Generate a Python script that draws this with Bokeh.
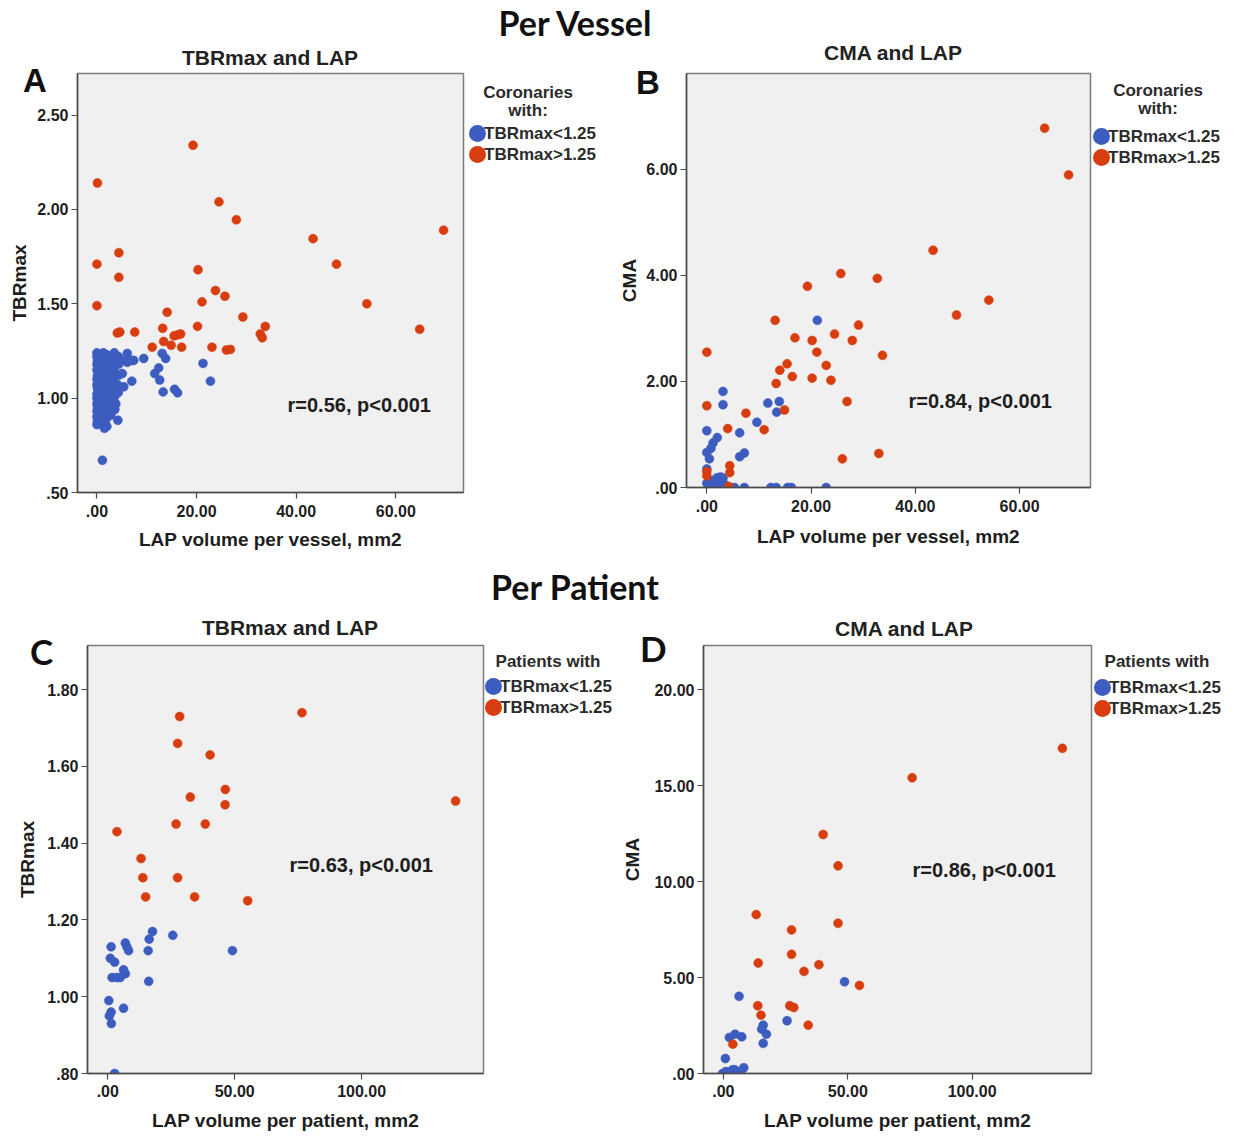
import html
from bokeh.plotting import figure
from bokeh.models import Range1d, FixedTicker, Label, Div, Spacer
from bokeh.layouts import column, row
from bokeh.embed import file_html
from bokeh.resources import INLINE

# ---------------- data ----------------
section_titles = ["Per Vessel", "Per Patient"]
panel_letters = ["A", "B", "C", "D"]
panel_titles = ["TBRmax and LAP", "CMA and LAP", "TBRmax and LAP", "CMA and LAP"]
x_labels = ["LAP volume per vessel, mm2", "LAP volume per vessel, mm2",
            "LAP volume per patient, mm2", "LAP volume per patient, mm2"]
y_labels = ["TBRmax", "CMA", "TBRmax", "CMA"]
stats_text = ["r=0.56, p<0.001", "r=0.84, p<0.001", "r=0.63, p<0.001", "r=0.86, p<0.001"]
legend_titles = [["Coronaries", "with:"], ["Coronaries", "with:"], ["Patients with"], ["Patients with"]]
series_names = ["TBRmax<1.25", "TBRmax>1.25"]

vessel_x_ticks = [0, 20, 40, 60]
vessel_x_tick_labels = [".00", "20.00", "40.00", "60.00"]
patient_x_ticks = [0, 50, 100]
patient_x_tick_labels = [".00", "50.00", "100.00"]
a_y_ticks = [0.5, 1.0, 1.5, 2.0, 2.5]
a_y_tick_labels = [".50", "1.00", "1.50", "2.00", "2.50"]
b_y_ticks = [0, 2, 4, 6]
b_y_tick_labels = [".00", "2.00", "4.00", "6.00"]
c_y_ticks = [0.8, 1.0, 1.2, 1.4, 1.6, 1.8]
c_y_tick_labels = [".80", "1.00", "1.20", "1.40", "1.60", "1.80"]
d_y_ticks = [0, 5, 10, 15, 20]
d_y_tick_labels = [".00", "5.00", "10.00", "15.00", "20.00"]

# Panel A: TBRmax vs LAP per vessel
a_red_x = [19.3, 0.1, 24.5, 28.0, 69.6, 43.4, 0.0, 48.1, 4.4, 4.4, 20.3, 0.0, 23.8, 25.7,
           21.1, 54.2, 14.1, 29.3, 4.1, 4.6, 7.6, 13.2, 20.2, 33.8, 32.8, 33.2, 64.8, 11.1,
           13.4, 14.9, 15.5, 16.2, 16.8, 17.0, 23.1, 26.0, 26.8]
a_red_y = [2.34, 2.14, 2.04, 1.945, 1.89, 1.845, 1.71, 1.71, 1.77, 1.64, 1.68, 1.49, 1.57, 1.54,
           1.51, 1.50, 1.455, 1.43, 1.345, 1.35, 1.35, 1.37, 1.38, 1.38, 1.34, 1.32, 1.365, 1.27,
           1.30, 1.28, 1.33, 1.335, 1.34, 1.27, 1.27, 1.255, 1.258]
a_blue_x = [6.1, 7.1, 6.1, 9.4, 13.1, 13.8, 12.4, 11.6, 12.6, 7.0, 13.3, 15.6, 16.2, 21.3, 22.8,
            4.2, 1.1, 5.4, 7.4,
            0.0, 0.0, 0.1, 0.0, 0.0, 0.1, 0.0, 0.0, 0.1, 0.0, 0.0, 0.0, 0.1, 0.0, 0.0, 0.1, 0.0,
            0.6, 0.7, 0.6, 0.5, 0.6, 0.7, 0.6, 0.6, 0.5, 0.7, 0.6, 0.6,
            1.3, 1.2, 1.3, 1.4, 1.3, 1.2, 1.3, 1.4, 1.3, 1.2, 1.3, 1.4, 1.5,
            2.0, 2.1, 2.0, 1.9, 2.0, 2.1, 2.0, 2.0, 1.9, 2.0,
            2.8, 2.9, 2.8, 2.7, 2.8, 2.9, 2.8, 2.8,
            3.5, 3.6, 3.5, 3.4, 3.5, 3.6, 3.6,
            4.3, 4.4, 4.3, 4.2, 4.3, 3.8,
            5.0, 5.1]
a_blue_y = [1.237, 1.20, 1.19, 1.21, 1.237, 1.21, 1.16, 1.13, 1.096, 1.09, 1.033, 1.047, 1.028, 1.184, 1.09,
            0.883, 0.671, 1.06, 1.20,
            1.24, 1.22, 1.20, 1.18, 1.15, 1.12, 1.10, 1.07, 1.05, 1.02, 1.00, 0.97, 0.95, 0.93, 0.90, 0.88, 0.86,
            1.23, 1.19, 1.16, 1.13, 1.09, 1.06, 1.03, 0.99, 0.96, 0.92, 0.89, 0.87,
            1.24, 1.21, 1.17, 1.14, 1.11, 1.08, 1.04, 1.01, 0.97, 0.94, 0.91, 0.88, 0.84,
            1.23, 1.19, 1.15, 1.12, 1.06, 1.02, 0.98, 0.93, 0.89, 0.85,
            1.22, 1.17, 1.13, 1.09, 1.05, 1.00, 0.96, 0.91,
            1.24, 1.20, 1.15, 1.10, 1.06, 1.01, 0.94,
            1.22, 1.18, 1.12, 1.07, 1.03, 0.97,
            1.20, 1.13]

# Panel B: CMA vs LAP per vessel
b_red_x = [64.8, 69.4, 43.4, 25.7, 32.7, 19.3, 54.1, 47.9, 13.1, 29.1, 16.9, 24.5, 20.2, 27.9,
           21.1, 0.0, 33.7, 15.4, 22.9, 14.0, 16.4, 13.3, 20.2, 23.8, 26.9, 0.0, 14.9, 7.5,
           11.0, 4.0, 26.0, 33.0, 4.4, 4.4, 0.0, 0.0, 4.2]
b_red_y = [6.77, 5.89, 4.47, 4.03, 3.94, 3.79, 3.53, 3.25, 3.15, 3.06, 2.82, 2.89, 2.77, 2.77,
           2.55, 2.55, 2.49, 2.33, 2.30, 2.21, 2.09, 1.96, 2.06, 2.02, 1.62, 1.54, 1.46, 1.40,
           1.09, 1.11, 0.54, 0.64, 0.41, 0.28, 0.30, 0.22, 0.02]
b_blue_x = [21.2, 3.1, 3.1, 0.0, 2.0, 1.2, 0.8, 0.0, 0.5, 11.7, 13.9, 13.4, 9.6, 6.3, 6.3, 7.2,
            0.0, 0.0, 0.8, 2.1, 3.1, 2.4, 3.4, 1.5, 0.3, 5.3, 7.2, 12.3, 13.3, 15.5, 16.2, 22.9,
            2.6, 1.9]
b_blue_y = [3.15, 1.81, 1.56, 1.07, 0.94, 0.84, 0.74, 0.66, 0.54, 1.59, 1.62, 1.42, 1.23, 1.03, 0.58, 0.65,
            0.35, 0.08, 0.13, 0.11, 0.18, 0.05, 0.06, 0.02, 0.0, 0.0, 0.0, 0.0, 0.0, 0.0, 0.0, 0.0,
            0.20, 0.18]

# Panel C: TBRmax vs LAP per patient
c_red_x = [28.3, 76.5, 27.5, 40.3, 46.3, 32.5, 46.2, 137.0, 26.9, 38.4, 3.6, 13.1, 13.8, 27.5,
           14.9, 34.2, 55.1]
c_red_y = [1.73, 1.74, 1.66, 1.63, 1.54, 1.52, 1.50, 1.51, 1.45, 1.45, 1.43, 1.36, 1.31, 1.31,
           1.26, 1.26, 1.25]
c_blue_x = [17.6, 25.6, 16.3, 15.9, 49.1, 16.1, 1.3, 6.9, 7.5, 8.2, 1.0, 2.7, 1.7, 3.6, 4.9,
            6.2, 6.9, 0.4, 6.2, 1.3, 0.6, 1.4, 2.7]
c_blue_y = [1.17, 1.16, 1.15, 1.12, 1.12, 1.04, 1.13, 1.14, 1.13, 1.12, 1.10, 1.09, 1.05, 1.05, 1.05,
            1.07, 1.06, 0.99, 0.97, 0.96, 0.95, 0.93, 0.80]

# Panel D: CMA vs LAP per patient
d_red_x = [136.3, 75.9, 40.1, 46.1, 13.2, 46.1, 27.4, 27.4, 14.0, 38.4, 32.4, 54.7, 13.8, 26.7,
           28.3, 15.1, 34.1, 3.8]
d_red_y = [16.94, 15.41, 12.45, 10.82, 8.28, 7.83, 7.48, 6.21, 5.76, 5.67, 5.32, 4.59, 3.53, 3.53,
           3.44, 3.04, 2.52, 1.53]
d_blue_x = [48.7, 6.3, 25.6, 16.0, 15.4, 17.3, 16.0, 2.4, 4.7, 7.4, 0.8, -0.3, 1.6, 3.6, 5.5,
            6.3, 8.2, 4.5, 2.5, 0.5, 7.0, 1.0, 3.0]
d_blue_y = [4.78, 4.02, 2.75, 2.52, 2.31, 2.05, 1.57, 1.88, 2.05, 1.91, 0.78, 0.0, 0.05, 0.19, 0.09,
            0.0, 0.30, 0.20, 0.0, 0.0, 0.12, 0.10, 0.05]

# ---------------- styling ----------------
BLUE = "#3c5cbf"
RED = "#d83d0f"
TXT = "#1e1e1e"
ARIAL = "Liberation Sans"
HEAD = "Lato"


def panel(idx, w, h, borders, xr, yr, xt, xtl, yt, ytl, blue, red, ystand, xtick_stand, xstand, stat_pos):
    L, R, T, B = borders
    p = figure(width=w, height=h, output_backend="svg", toolbar_location=None,
               x_range=Range1d(*xr), y_range=Range1d(*yr),
               min_border_left=L, min_border_right=R, min_border_top=T, min_border_bottom=B)
    p.background_fill_color = "#f0f0f0"
    p.border_fill_color = None
    p.outline_line_color = "#7d7d7d"
    p.outline_line_width = 1.5
    p.grid.visible = False
    for ax, ticks, tlabels, text, stand, tstand in (
            (p.xaxis[0], xt, xtl, x_labels[idx], xstand, xtick_stand),
            (p.yaxis[0], yt, ytl, y_labels[idx], ystand, 3)):
        ax.ticker = FixedTicker(ticks=ticks)
        ax.major_label_overrides = {t: s for t, s in zip(ticks, tlabels)}
        ax.axis_label = text
        ax.axis_label_standoff = stand
        ax.axis_label_text_font = ARIAL
        ax.axis_label_text_font_size = "19px"
        ax.axis_label_text_font_style = "bold"
        ax.axis_label_text_color = TXT
        ax.major_label_text_font = ARIAL
        ax.major_label_text_font_size = "16px"
        ax.major_label_text_font_style = "bold"
        ax.major_label_text_color = TXT
        ax.major_label_standoff = tstand
        ax.major_tick_out = 6
        ax.major_tick_in = 0
        ax.minor_tick_line_color = None
        ax.axis_line_color = "#4a4a4a"
        ax.axis_line_width = 1.5
        ax.major_tick_line_color = "#4a4a4a"
        ax.major_tick_line_width = 1.2
    p.yaxis[0].major_label_orientation = "horizontal"

    p.scatter(blue[0], blue[1], size=9, fill_color=BLUE, line_color=BLUE, line_width=0.5)
    p.scatter(red[0], red[1], size=9, fill_color=RED, line_color=RED, line_width=0.5)

    p.add_layout(Label(x=stat_pos[0], y=stat_pos[1], x_units="canvas", y_units="canvas",
                       text=stats_text[idx], text_font=ARIAL, text_font_size="20px",
                       text_font_style="bold", text_align="left", text_baseline="middle",
                       text_color=TXT))
    return p


pA = panel(0, 616, 535, (77, 153, 33, 83), (-3.9, 73.6), (0.5, 2.72),
           vessel_x_ticks, vessel_x_tick_labels, a_y_ticks, a_y_tick_labels,
           (a_blue_x, a_blue_y), (a_red_x, a_red_y), 4, 6, 9, (287, 364))
pB = panel(1, 612, 530, (70, 138, 33, 83), (-3.9, 73.6), (0.0, 7.8),
           vessel_x_ticks, vessel_x_tick_labels, b_y_ticks, b_y_tick_labels,
           (b_blue_x, b_blue_y), (b_red_x, b_red_y), 3, 6, 11, (292, 360))
pC = panel(2, 616, 530, (87, 133, 39, 61), (-8, 148), (0.8, 1.915),
           patient_x_ticks, patient_x_tick_labels, c_y_ticks, c_y_tick_labels,
           (c_blue_x, c_blue_y), (c_red_x, c_red_y), 6, 5, 10, (289, 260))
pD = panel(3, 612, 530, (87, 137, 41, 61), (-8, 148), (0.0, 22.3),
           patient_x_ticks, patient_x_tick_labels, d_y_ticks, d_y_tick_labels,
           (d_blue_x, d_blue_y), (d_red_x, d_red_y), 8, 5, 10, (296, 265))

# ---------------- text overlay (titles, panel letters, legends) ----------------
items = []


def txt(x, y, text, size, font=ARIAL, align="center", color="#222"):
    tr = "translate(-50%,-50%)" if align == "center" else "translate(0,-50%)"
    items.append(f'<div style="position:absolute;left:{x}px;top:{y}px;transform:{tr};'
                 f'white-space:nowrap;font-family:\'{font}\';font-weight:bold;font-size:{size}px;'
                 f'line-height:1;color:{color}">{html.escape(text)}</div>')


def dot(x, y, color):
    items.append(f'<div style="position:absolute;left:{x - 8.5}px;top:{y - 8.5}px;width:17px;'
                 f'height:17px;border-radius:50%;background:{color}"></div>')


txt(575, 23, section_titles[0], 34, font=HEAD, color="#111")
txt(575, 587, section_titles[1], 34, font=HEAD, color="#111")

title_pos = [(270, 57), (893, 52), (290, 627), (904, 628)]
letter_pos = [(23, 80, ARIAL), (636, 82, ARIAL), (30, 651, HEAD), (640, 648, HEAD)]
legend_title_pos = [(528, [92, 110]), (1158, [90, 108]), (548, [661]), (1157, [661])]
legend_marker_pos = [(477, [133, 154]), (1101, [136, 157]), (493, [686, 707]), (1102, [687, 708])]

for i in range(4):
    txt(title_pos[i][0], title_pos[i][1], panel_titles[i], 21)
    lx, ly, lf = letter_pos[i]
    txt(lx, ly, panel_letters[i], 33 if lf == ARIAL else 35, font=lf, align="left", color="#111")
    tx, tys = legend_title_pos[i]
    for t, ty in zip(legend_titles[i], tys):
        txt(tx, ty, t, 17, color="#2b2b2b")
    mx, mys = legend_marker_pos[i]
    for name, col, my in zip(series_names, (BLUE, RED), mys):
        dot(mx, my, col)
        txt(mx + 7, my, name, 17, align="left", color="#2b2b2b")

overlay = Div(text='<div style="position:relative;width:1230px;height:1134px">' + "".join(items) + "</div>",
              width=1230, height=1134, margin=(-1134, 0, 0, 0))

layout = column(Spacer(width=10, height=40), row(pA, pB),
                Spacer(width=10, height=29), row(pC, pD), overlay)

open("out.html", "w").write(file_html(layout, INLINE))
